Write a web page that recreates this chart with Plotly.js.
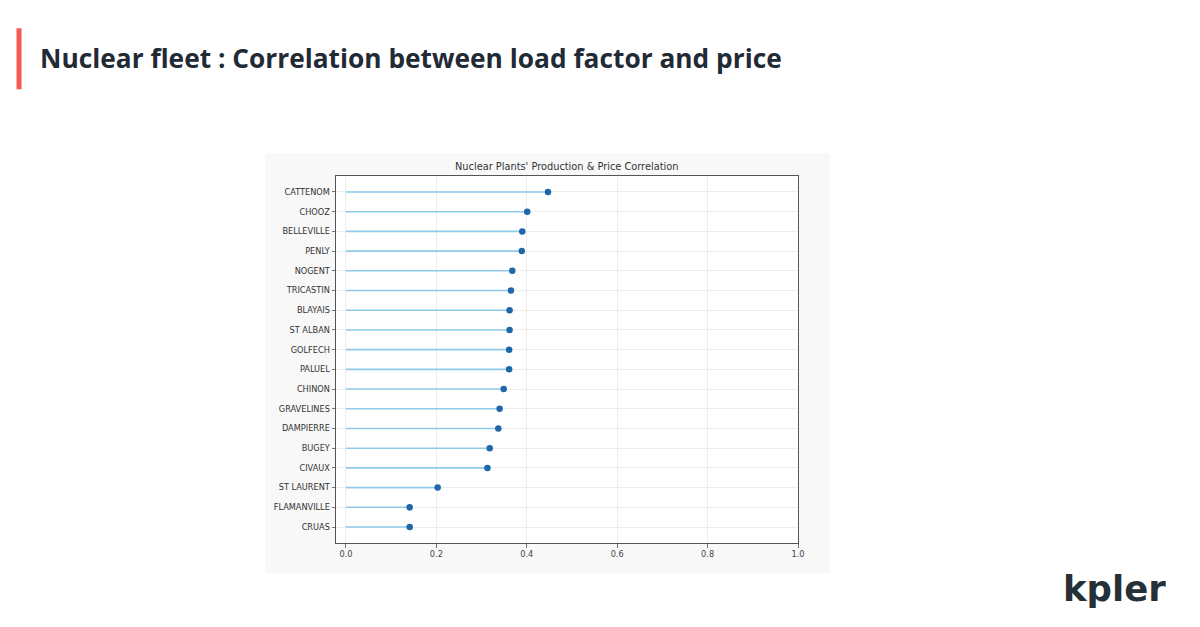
<!DOCTYPE html>
<html>
<head>
<meta charset="utf-8">
<script src="https://cdn.plot.ly/plotly-3.0.1.min.js"></script>
<style>
  html, body { margin: 0; padding: 0; background: #ffffff; }
  #chart { width: 1200px; height: 627px; }
</style>
</head>
<body>
<div id="chart"></div>
<script>
// ---- Data ----
const plants = ["CATTENOM", "CHOOZ", "BELLEVILLE", "PENLY", "NOGENT", "TRICASTIN", "BLAYAIS", "ST ALBAN", "GOLFECH", "PALUEL", "CHINON", "GRAVELINES", "DAMPIERRE", "BUGEY", "CIVAUX", "ST LAURENT", "FLAMANVILLE", "CRUAS"];
const correlation = [0.447, 0.401, 0.390, 0.389, 0.368, 0.365, 0.362, 0.362, 0.361, 0.361, 0.349, 0.340, 0.337, 0.318, 0.313, 0.203, 0.141, 0.141];
const xTickVals = [0.0, 0.2, 0.4, 0.6, 0.8, 1.0];
const xTickText = ["0.0", "0.2", "0.4", "0.6", "0.8", "1.0"];
const pageTitle = "Nuclear fleet : Correlation between load factor and price";
const chartTitle = "Nuclear Plants' Production & Price Correlation";
const brand = "kpler";

// ---- Layout geometry (pixels of the 1200x627 page) ----
const W = 1200, H = 627;
const plotL = 335.7, plotR = 798, plotT = 175.7, plotB = 542.7;
const pw = plotR - plotL, ph = plotB - plotT;
const px = x => (x - plotL) / pw;
const py = y => (plotB - y) / ph;

// stems built from data
const stemX = [], stemY = [];
plants.forEach((p, i) => { stemX.push(0, correlation[i], null); stemY.push(p, p, null); });

const traces = [
  {
    type: "scatter", mode: "lines", x: stemX, y: stemY,
    line: { color: "#8fcbe8", width: 1.6 }, hoverinfo: "skip", showlegend: false
  },
  {
    type: "scatter", mode: "markers", x: correlation, y: plants,
    marker: { color: "#1f67a8", size: 6.5 }, showlegend: false
  }
];

const layout = {
  width: W, height: H,
  margin: { l: plotL, r: W - plotR, t: plotT, b: H - plotB, pad: 0 },
  paper_bgcolor: "#ffffff",
  plot_bgcolor: "#ffffff",
  font: { family: "DejaVu Sans, sans-serif", color: "#333333", size: 8 },
  showlegend: false,
  xaxis: {
    range: [-0.022, 1.0],
    tickvals: xTickVals, ticktext: xTickText,
    showgrid: true, gridcolor: "#e9e9e9", gridwidth: 0.8,
    zeroline: false,
    showline: true, mirror: true, linecolor: "#555555", linewidth: 1,
    ticks: "outside", ticklen: 3.5, tickcolor: "#555555", tickwidth: 0.8,
    tickfont: { size: 8.2, color: "#444444", family: "DejaVu Sans, sans-serif" },
    fixedrange: true
  },
  yaxis: {
    type: "category",
    categoryorder: "array", categoryarray: plants,
    range: [plants.length - 1 + 0.81, -0.81],
    showgrid: true, gridcolor: "#e9e9e9", gridwidth: 0.8,
    zeroline: false,
    showline: true, mirror: true, linecolor: "#555555", linewidth: 1,
    ticks: "outside", ticklen: 3.5, tickcolor: "#555555", tickwidth: 0.8,
    tickfont: { size: 8.2, color: "#333333", family: "DejaVu Sans, sans-serif" },
    fixedrange: true
  },
  shapes: [
    // screenshot background
    { type: "rect", xref: "paper", yref: "paper", layer: "below",
      x0: px(265), x1: px(830), y0: py(573), y1: py(153),
      fillcolor: "#f8f8f8", line: { width: 0 } },
    // plot area white
    { type: "rect", xref: "paper", yref: "paper", layer: "below",
      x0: 0, x1: 1, y0: 0, y1: 1,
      fillcolor: "#ffffff", line: { width: 0 } },
    // red accent bar
    { type: "rect", xref: "paper", yref: "paper",
      x0: px(16), x1: px(21), y0: py(89), y1: py(28),
      fillcolor: "#f25a52", line: { width: 0 } }
  ],
  annotations: [
    { text: "<b>" + pageTitle + "</b>", xref: "paper", yref: "paper",
      x: px(38), y: py(58), xanchor: "left", yanchor: "middle", showarrow: false,
      font: { family: "Open Sans, sans-serif", size: 26.3, color: "#222a35" } },
    { text: chartTitle, xref: "paper", yref: "paper",
      x: px(566.5), y: py(166.5), xanchor: "center", yanchor: "middle", showarrow: false,
      font: { family: "DejaVu Sans, sans-serif", size: 9.8, color: "#333333" } },
    { text: "<b>" + brand + "</b>", xref: "paper", yref: "paper",
      x: px(1114.5), y: py(588), xanchor: "center", yanchor: "middle", showarrow: false,
      font: { family: "DejaVu Sans, sans-serif", size: 35.5, color: "#263039" } }
  ]
};

Plotly.newPlot("chart", traces, layout, { displayModeBar: false, staticPlot: true });
</script>
</body>
</html>
